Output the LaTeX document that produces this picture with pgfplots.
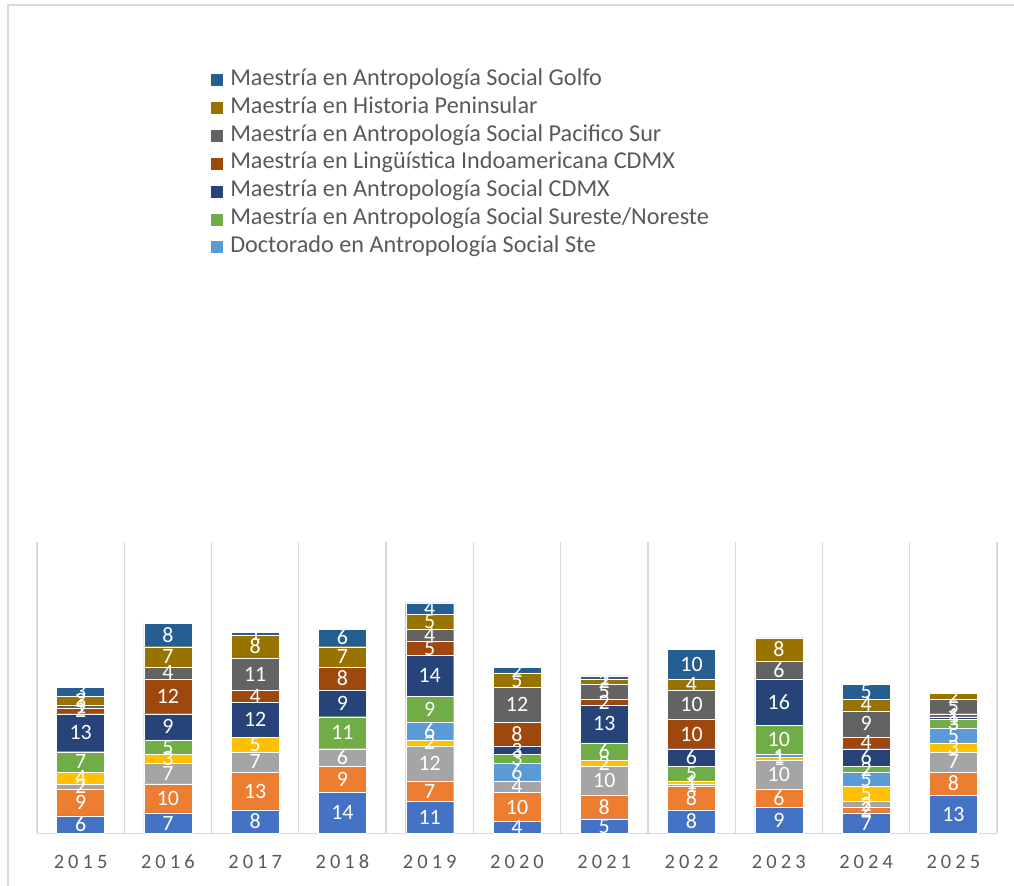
\documentclass[border=0pt]{standalone}
\usepackage{fontspec}
\setmainfont{Carlito}
\newfontfamily\yearfont[LetterSpace=20]{Carlito}
\usepackage{pgfplots}
\pgfplotsset{compat=1.18}
\usepackage{pgfplotstable}

\definecolor{c1}{HTML}{4472C4}
\definecolor{c2}{HTML}{ED7D31}
\definecolor{c3}{HTML}{A5A5A5}
\definecolor{c4}{HTML}{FFC000}
\definecolor{c5}{HTML}{5B9BD5}
\definecolor{c6}{HTML}{70AD47}
\definecolor{c7}{HTML}{264478}
\definecolor{c8}{HTML}{9E480E}
\definecolor{c9}{HTML}{636363}
\definecolor{c10}{HTML}{997300}
\definecolor{c11}{HTML}{255E91}
\definecolor{textgris}{HTML}{595959}
\definecolor{gridgris}{HTML}{D9D9D9}

% x = 0..10 -> 2015..2025
\pgfplotstableread{
x  s1 s2 s3 s4 s5 s6 s7 s8 s9 s10 s11
0  6  9  2  4  0  7  13 2  1  3   3
1  7  10 7  3  0  5  9  12 4  7   8
2  8  13 7  5  0  0  12 4  11 8   1
3  14 9  6  0  0  11 9  8  0  7   6
4  11 7  12 2  6  9  14 5  4  5   4
5  4  10 4  0  6  3  3  8  12 5   2
6  5  8  10 2  0  6  13 2  5  2   1
7  8  8  1  1  0  5  6  10 10 4   10
8  9  6  10 1  1  10 16 0  6  8   0
9  7  2  2  5  5  2  6  4  9  4   5
10 13 8  7  3  5  3  1  1  5  2   0
}\datos

% centro de cada segmento, para las etiquetas
\pgfplotstablecreatecol[create col/expr={\thisrow{s1}/2}]{m1}\datos
\pgfplotstablecreatecol[create col/expr={\thisrow{s1}+\thisrow{s2}/2}]{m2}\datos
\pgfplotstablecreatecol[create col/expr={\thisrow{s1}+\thisrow{s2}+\thisrow{s3}/2}]{m3}\datos
\pgfplotstablecreatecol[create col/expr={\thisrow{s1}+\thisrow{s2}+\thisrow{s3}+\thisrow{s4}/2}]{m4}\datos
\pgfplotstablecreatecol[create col/expr={\thisrow{s1}+\thisrow{s2}+\thisrow{s3}+\thisrow{s4}+\thisrow{s5}/2}]{m5}\datos
\pgfplotstablecreatecol[create col/expr={\thisrow{s1}+\thisrow{s2}+\thisrow{s3}+\thisrow{s4}+\thisrow{s5}+\thisrow{s6}/2}]{m6}\datos
\pgfplotstablecreatecol[create col/expr={\thisrow{s1}+\thisrow{s2}+\thisrow{s3}+\thisrow{s4}+\thisrow{s5}+\thisrow{s6}+\thisrow{s7}/2}]{m7}\datos
\pgfplotstablecreatecol[create col/expr={\thisrow{s1}+\thisrow{s2}+\thisrow{s3}+\thisrow{s4}+\thisrow{s5}+\thisrow{s6}+\thisrow{s7}+\thisrow{s8}/2}]{m8}\datos
\pgfplotstablecreatecol[create col/expr={\thisrow{s1}+\thisrow{s2}+\thisrow{s3}+\thisrow{s4}+\thisrow{s5}+\thisrow{s6}+\thisrow{s7}+\thisrow{s8}+\thisrow{s9}/2}]{m9}\datos
\pgfplotstablecreatecol[create col/expr={\thisrow{s1}+\thisrow{s2}+\thisrow{s3}+\thisrow{s4}+\thisrow{s5}+\thisrow{s6}+\thisrow{s7}+\thisrow{s8}+\thisrow{s9}+\thisrow{s10}/2}]{m10}\datos
\pgfplotstablecreatecol[create col/expr={\thisrow{s1}+\thisrow{s2}+\thisrow{s3}+\thisrow{s4}+\thisrow{s5}+\thisrow{s6}+\thisrow{s7}+\thisrow{s8}+\thisrow{s9}+\thisrow{s10}+\thisrow{s11}/2}]{m11}\datos

\pgfplotsset{
  marco/.style={
    at={(37bp,52.7bp)}, anchor=south west,
    scale only axis, width=960bp, height=291.6bp,
    xmin=-0.5, xmax=10.5, ymin=0, ymax=100,
  },
  etiqueta/.style={only marks, mark=none, point meta=explicit symbolic,
    nodes near coords={\ifnum\pgfplotspointmeta>0 \pgfplotspointmeta\fi},
    nodes near coords style={font=\fontsize{22}{24}\selectfont, text=white,
      anchor=center, inner sep=0pt, text height=14bp, text depth=0pt}},
}

\begin{document}
\begin{tikzpicture}
\useasboundingbox (0bp,0bp) rectangle (1014bp,886bp);
\draw[line width=1.3bp, gridgris] (8bp,0bp) -- (8bp,881bp) -- (1014bp,881bp);
\begin{axis}[
  marco,
  ybar stacked, bar width=48bp,
  axis x line*=bottom, hide y axis,
  x axis line style={draw=gridgris, line width=1.3bp, -},
  xtick={0,...,10},
  xticklabels={2015,2016,2017,2018,2019,2020,2021,2022,2023,2024,2025},
  major tick length=0pt, minor tick length=0pt,
  minor xtick={-0.5,0.5,...,10.5},
  xminorgrids, minor grid style={draw=gridgris, line width=1.3bp},
  xticklabel style={font=\yearfont\fontsize{20.5}{24}\selectfont, text=textgris, anchor=base, yshift=-35bp},
  legend style={at={(axis description cs:0.180,2.621)}, anchor=north west,
    draw=none, fill=none, inner sep=0pt, column sep=7bp, row sep=6.9bp,
    font=\fontsize{24.3}{28}\selectfont, text=textgris,
    nodes={inner sep=0pt, text height=16bp, text depth=5bp}},
  legend cell align=left,
  reverse legend,
  legend image code/.code={\fill[#1] (0bp,-6.5bp) rectangle (13bp,6.5bp);},
]
\addplot[fill=c1, draw=white, line width=0.3bp, forget plot] table[x=x, y=s1] {\datos};
\addplot[fill=c2, draw=white, line width=0.3bp, forget plot] table[x=x, y=s2] {\datos};
\addplot[fill=c3, draw=white, line width=0.3bp, forget plot] table[x=x, y=s3] {\datos};
\addplot[fill=c4, draw=white, line width=0.3bp, forget plot] table[x=x, y=s4] {\datos};
\addplot[fill=c5, draw=white, line width=0.3bp] table[x=x, y=s5] {\datos};
\addlegendentry{Doctorado en Antropología Social Ste}
\addplot[fill=c6, draw=white, line width=0.3bp] table[x=x, y=s6] {\datos};
\addlegendentry{Maestría en Antropología Social Sureste/Noreste}
\addplot[fill=c7, draw=white, line width=0.3bp] table[x=x, y=s7] {\datos};
\addlegendentry{Maestría en Antropología Social CDMX}
\addplot[fill=c8, draw=white, line width=0.3bp] table[x=x, y=s8] {\datos};
\addlegendentry{Maestría en Lingüística Indoamericana CDMX}
\addplot[fill=c9, draw=white, line width=0.3bp] table[x=x, y=s9] {\datos};
\addlegendentry{Maestría en Antropología Social Pacifico Sur}
\addplot[fill=c10, draw=white, line width=0.3bp] table[x=x, y=s10] {\datos};
\addlegendentry{Maestría en Historia Peninsular}
\addplot[fill=c11, draw=white, line width=0.3bp] table[x=x, y=s11] {\datos};
\addlegendentry{Maestría en Antropología Social Golfo}
\end{axis}
\begin{axis}[marco, hide axis, clip=false]
\addplot[etiqueta] table[x=x, y=m1, meta=s1] {\datos};
\addplot[etiqueta] table[x=x, y=m2, meta=s2] {\datos};
\addplot[etiqueta] table[x=x, y=m3, meta=s3] {\datos};
\addplot[etiqueta] table[x=x, y=m4, meta=s4] {\datos};
\addplot[etiqueta] table[x=x, y=m5, meta=s5] {\datos};
\addplot[etiqueta] table[x=x, y=m6, meta=s6] {\datos};
\addplot[etiqueta] table[x=x, y=m7, meta=s7] {\datos};
\addplot[etiqueta] table[x=x, y=m8, meta=s8] {\datos};
\addplot[etiqueta] table[x=x, y=m9, meta=s9] {\datos};
\addplot[etiqueta] table[x=x, y=m10, meta=s10] {\datos};
\addplot[etiqueta] table[x=x, y=m11, meta=s11] {\datos};
\end{axis}
\end{tikzpicture}
\end{document}
